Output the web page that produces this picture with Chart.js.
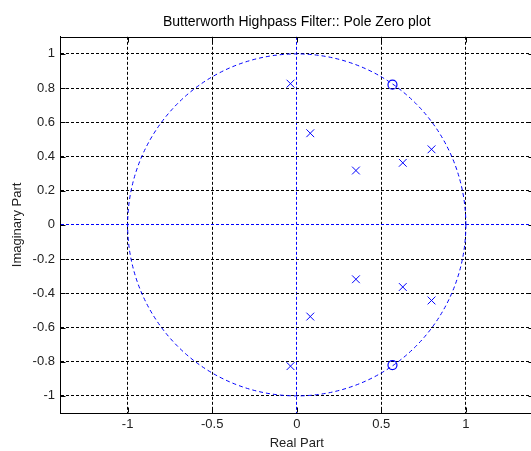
<!DOCTYPE html>
<html>
<head>
<meta charset="utf-8">
<title>Butterworth Highpass Filter:: Pole Zero plot</title>
<script src="https://cdn.jsdelivr.net/npm/chart.js@4.4.1/dist/chart.umd.min.js"></script>
<style>
  html, body { margin: 0; padding: 0; background: #fff; overflow: hidden; }
  #wrap { width: 540px; height: 451px; }
</style>
</head>
<body>
<div id="wrap"><canvas id="pzChart" width="540" height="451"></canvas></div>
<script>
// polos (x) e zeros (o)
const poleRe = [0.797, 0.797, 0.627, 0.627, 0.350, 0.350, 0.080, 0.080, -0.037, -0.037];
const poleIm = [-0.442, 0.442, -0.363, 0.363, -0.318, 0.318, -0.536, 0.536, -0.826, 0.826];
const zeroRe = [0.566, 0.566];
const zeroIm = [0.820, -0.820];

// eixos
const xTicks = [-1, -0.5, 0, 0.5, 1];
const yTicks = [-1, -0.8, -0.6, -0.4, -0.2, 0, 0.2, 0.4, 0.6, 0.8, 1];
const xRange = [-1.4, 1.4];
const yRange = [-1.1, 1.1];
const unitRadius = 1;

const fontFamily = '"Liberation Sans", Arial, sans-serif';
const blue = '#0000ff';

// círculo unitário, moldura e marcas internas
const extras = {
    id: 'extras',
    beforeDatasetsDraw(chart) {
        const ctx = chart.ctx;
        const x = chart.scales.x, y = chart.scales.y;
        const area = chart.chartArea;

        // círculo unitário
        ctx.save();
        ctx.beginPath();
        ctx.rect(area.left, area.top, area.right - area.left, area.bottom - area.top);
        ctx.clip();
        ctx.strokeStyle = blue;
        ctx.lineWidth = 1;
        ctx.setLineDash([4, 3]);
        const rx = x.getPixelForValue(unitRadius) - x.getPixelForValue(0);
        const ry = y.getPixelForValue(0) - y.getPixelForValue(unitRadius);
        ctx.beginPath();
        ctx.ellipse(x.getPixelForValue(0), y.getPixelForValue(0), rx, ry, 0, 0, Math.PI * 2);
        ctx.stroke();
        ctx.restore();

        // moldura e ticks internos
        ctx.save();
        ctx.strokeStyle = '#000';
        ctx.lineWidth = 1;
        ctx.setLineDash([]);
        const top = Math.round(area.top) + 0.5;
        const right = Math.round(area.right) - 0.5;
        const left = Math.round(area.left) + 0.5;
        const bottom = Math.round(area.bottom) - 0.5;
        ctx.beginPath();
        ctx.moveTo(left, top);
        ctx.lineTo(right, top);
        ctx.lineTo(right, bottom);
        const tl = 5;
        xTicks.forEach(v => {
            const px = Math.round(x.getPixelForValue(v)) + 0.5;
            ctx.moveTo(px, top); ctx.lineTo(px, top + tl);
            ctx.moveTo(px, bottom); ctx.lineTo(px, bottom - tl);
        });
        yTicks.forEach(v => {
            const py = Math.round(y.getPixelForValue(v)) + 0.5;
            ctx.moveTo(left, py); ctx.lineTo(left + tl, py);
            ctx.moveTo(right, py); ctx.lineTo(right - tl, py);
        });
        ctx.stroke();
        ctx.restore();
    }
};

// grade preta tracejada, linha azul em zero
const gridColor = c => (c.tick && c.tick.value === 0) ? blue : '#000';

new Chart(document.getElementById('pzChart').getContext('2d'), {
    type: 'scatter',
    data: {
        datasets: [{
            label: 'Poles',
            data: poleRe.map((re, i) => ({ x: re, y: poleIm[i] })),
            pointStyle: 'crossRot',
            radius: 5.5,
            hoverRadius: 5.5,
            borderColor: blue,
            hoverBorderColor: blue,
            borderWidth: 1,
            backgroundColor: 'rgba(0,0,0,0)'
        }, {
            label: 'Zeros',
            data: zeroRe.map((re, i) => ({ x: re, y: zeroIm[i] })),
            pointStyle: 'circle',
            radius: 4.5,
            hoverRadius: 4.5,
            borderColor: blue,
            hoverBorderColor: blue,
            borderWidth: 1.2,
            backgroundColor: 'rgba(0,0,0,0)'
        }]
    },
    options: {
        responsive: false,
        animation: false,
        events: [],
        devicePixelRatio: 1,
        layout: { padding: { left: 0, right: 5, top: 0, bottom: 0 } },
        plugins: {
            legend: { display: false },
            tooltip: { enabled: false },
            title: {
                display: true,
                fullSize: false,
                text: 'Butterworth Highpass Filter:: Pole Zero plot',
                color: '#000',
                font: { family: fontFamily, size: 14, weight: 'normal' },
                padding: { top: 14, bottom: 6 }
            }
        },
        scales: {
            x: {
                type: 'linear',
                min: xRange[0],
                max: xRange[1],
                afterBuildTicks: s => { s.ticks = xTicks.map(v => ({ value: v })); },
                afterFit: s => { s.height = 38; },
                grid: { color: gridColor, lineWidth: 1, drawTicks: false },
                border: { display: true, color: '#000', width: 1, dash: [3, 2] },
                ticks: {
                    padding: 4,
                    color: '#222',
                    font: { family: fontFamily, size: 13 },
                    callback: v => String(v)
                },
                title: {
                    display: true,
                    text: 'Real Part',
                    color: '#222',
                    font: { family: fontFamily, size: 13 },
                    padding: { top: 0, bottom: 0 }
                }
            },
            y: {
                type: 'linear',
                min: yRange[0],
                max: yRange[1],
                afterBuildTicks: s => { s.ticks = yTicks.map(v => ({ value: v })); },
                afterFit: s => { s.width = 60; },
                grid: { color: gridColor, lineWidth: 1, drawTicks: false },
                border: { display: true, color: '#000', width: 1, dash: [3, 2] },
                ticks: {
                    padding: 5,
                    color: '#222',
                    font: { family: fontFamily, size: 13 },
                    callback: v => String(v)
                },
                title: {
                    display: true,
                    text: 'Imaginary Part',
                    color: '#222',
                    font: { family: fontFamily, size: 13 },
                    padding: { top: 10, bottom: 0 }
                }
            }
        }
    },
    plugins: [extras]
});
</script>
</body>
</html>
